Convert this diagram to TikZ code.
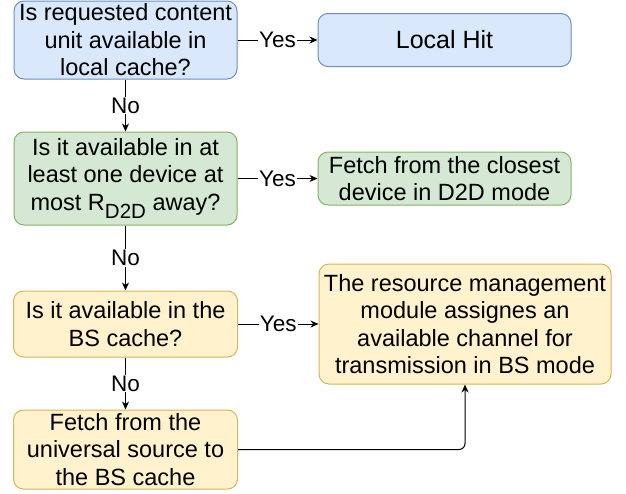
\documentclass[tikz,border=0pt]{standalone}
\usepackage{fontspec}
\setmainfont{Liberation Sans}
\usetikzlibrary{arrows.meta}
\definecolor{bluefill}{HTML}{DAE8FC}
\definecolor{blueline}{HTML}{6C8EBF}
\definecolor{greenfill}{HTML}{D5E8D4}
\definecolor{greenline}{HTML}{82B366}
\definecolor{yellowfill}{HTML}{FFF2CC}
\definecolor{yellowline}{HTML}{D6B656}
\tikzset{
  box/.style={draw, rounded corners=10pt, line width=1pt, align=center, inner sep=2pt,
    font=\fontsize{23.5}{27.5}\selectfont},
  bluebox/.style={box, fill=bluefill, draw=blueline},
  greenbox/.style={box, fill=greenfill, draw=greenline},
  yellowbox/.style={box, fill=yellowfill, draw=yellowline},
  lbl/.style={fill=white, inner sep=1pt, font=\fontsize{22.5}{24}\selectfont}
}
\begin{document}
\begin{tikzpicture}[x=1pt, y=-1pt, line width=1pt, >={Stealth[length=8pt,width=7pt,inset=2.5pt]}]
    \useasboundingbox (0,0) rectangle (626,493);
    % left column: the questions
    \node[bluebox, minimum width=223pt, minimum height=78pt] (local) at (125.5,40)
        {Is requested content\\unit available in\\local cache?};
    \node[greenbox, minimum width=223pt, minimum height=93pt] (d2d) at (125.5,178.5)
        {Is it available in at\\least one device at\\most R\raisebox{-0.35em}{\fontsize{20.5}{21}\selectfont D2D} away?};
    \node[yellowbox, minimum width=224pt, minimum height=66pt] (bs) at (125.5,324)
        {Is it available in the\\BS cache?};
    \node[yellowbox, minimum width=224pt, minimum height=79pt] (src) at (125.5,449.5)
        {Fetch from the\\universal source to\\the BS cache};
    % right column: the outcomes
    \node[bluebox, minimum width=253pt, minimum height=53pt, font=\fontsize{25}{28}\selectfont] (hit) at (444.5,40) {Local Hit};
    \node[greenbox, minimum width=253pt, minimum height=53pt] (fetch) at (444.5,178.5)
        {Fetch from the closest\\device in D2D mode};
    \node[yellowbox, minimum width=292pt, minimum height=120pt] (assign) at (465,324)
        {The resource management\\module assignes an\\available channel for\\transmission in BS mode};

    \draw[->](local)--node[lbl]{Yes}(hit);
    \draw[->](d2d)--node[lbl]{Yes}(fetch);
    \draw[->](bs)--node[lbl]{Yes}(assign);
\foreach \a/\b in {local/d2d, d2d/bs, bs/src}
{
    \draw[->](\a)--node[lbl]{No}(\b);
}
    \draw[->, rounded corners=6pt](src.east)-|(assign.south);
\end{tikzpicture}
\end{document}
